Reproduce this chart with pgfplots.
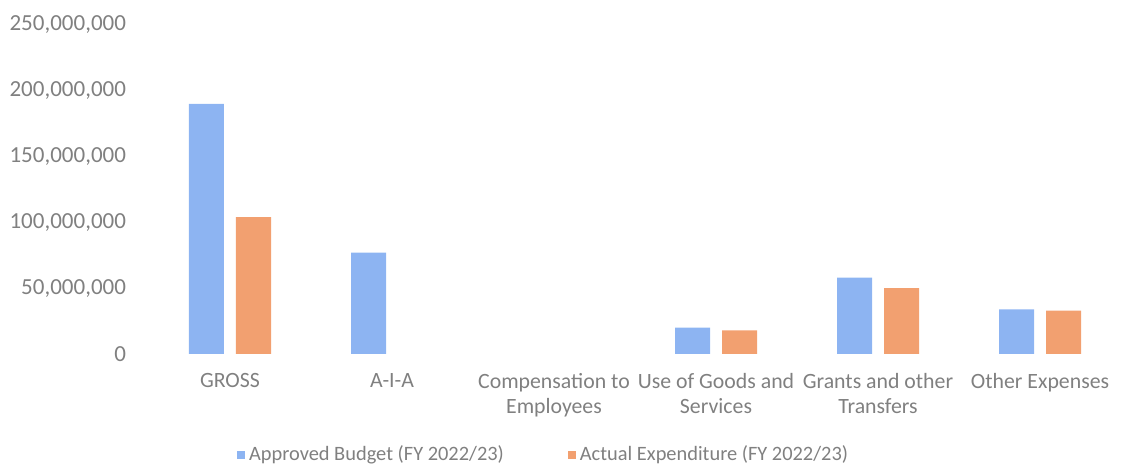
\documentclass[border=0pt]{standalone}
\usepackage{pgfplots}
\pgfplotsset{compat=1.18}
\usepackage{fontspec}
\setmainfont{Carlito}
\definecolor{txt}{RGB}{128,128,128}
\definecolor{cblue}{RGB}{141,180,242}
\definecolor{corange}{RGB}{242,160,112}
\begin{document}
\begin{tikzpicture}
\path[use as bounding box] (-74.5pt,-57.5pt) rectangle (487.5pt,177pt);
\begin{axis}[
  at={(0,0)}, anchor=south west,
  scale only axis, width=486pt, height=164.5pt,
  ybar=6pt, bar width=17.5pt,
  xmin=-0.5, xmax=5.5, ymin=0, ymax=250000000,
  xtick={0,1,2,3,4,5},
  xticklabels={GROSS, A-I-A, {Compensation to\\Employees}, {Use of Goods and\\Services}, {Grants and other\\Transfers}, Other Expenses},
  ytick={0,50000000,100000000,150000000,200000000,250000000},
  scaled y ticks=false,
  yticklabel style={xshift=-8pt, font=\fontsize{11.5}{12.5}\selectfont, /pgf/number format/fixed, /pgf/number format/precision=0, /pgf/number format/1000 sep={,}, /pgf/number format/assume math mode=true},
  axis line style={draw=none},
  major tick length=0pt,
  tick label style={text=txt},
  xticklabel style={align=center, yshift=-6pt, font=\fontsize{10.9}{12.5}\selectfont},
  legend columns=2,
  legend style={draw=none, at={(0.407,-0.307)}, anchor=center, font=\fontsize{10.2}{12}\selectfont, text=txt,
    /tikz/every even column/.append style={column sep=30pt}},
  clip=false,
]
\addplot[fill=cblue, draw=none, legend image code/.code={\fill[cblue] (0pt,-2pt) rectangle (4pt,2pt);}] coordinates {
  (0,190000000) (1,77000000) (3,20000000) (4,58000000) (5,34000000)};
\addplot[fill=corange, draw=none, legend image code/.code={\fill[corange] (0pt,-2pt) rectangle (4pt,2pt);}] coordinates {
  (0,104000000) (3,18000000) (4,50000000) (5,33000000)};
\legend{Approved Budget (FY 2022/23), Actual Expenditure (FY 2022/23)}
\end{axis}
\end{tikzpicture}
\end{document}
